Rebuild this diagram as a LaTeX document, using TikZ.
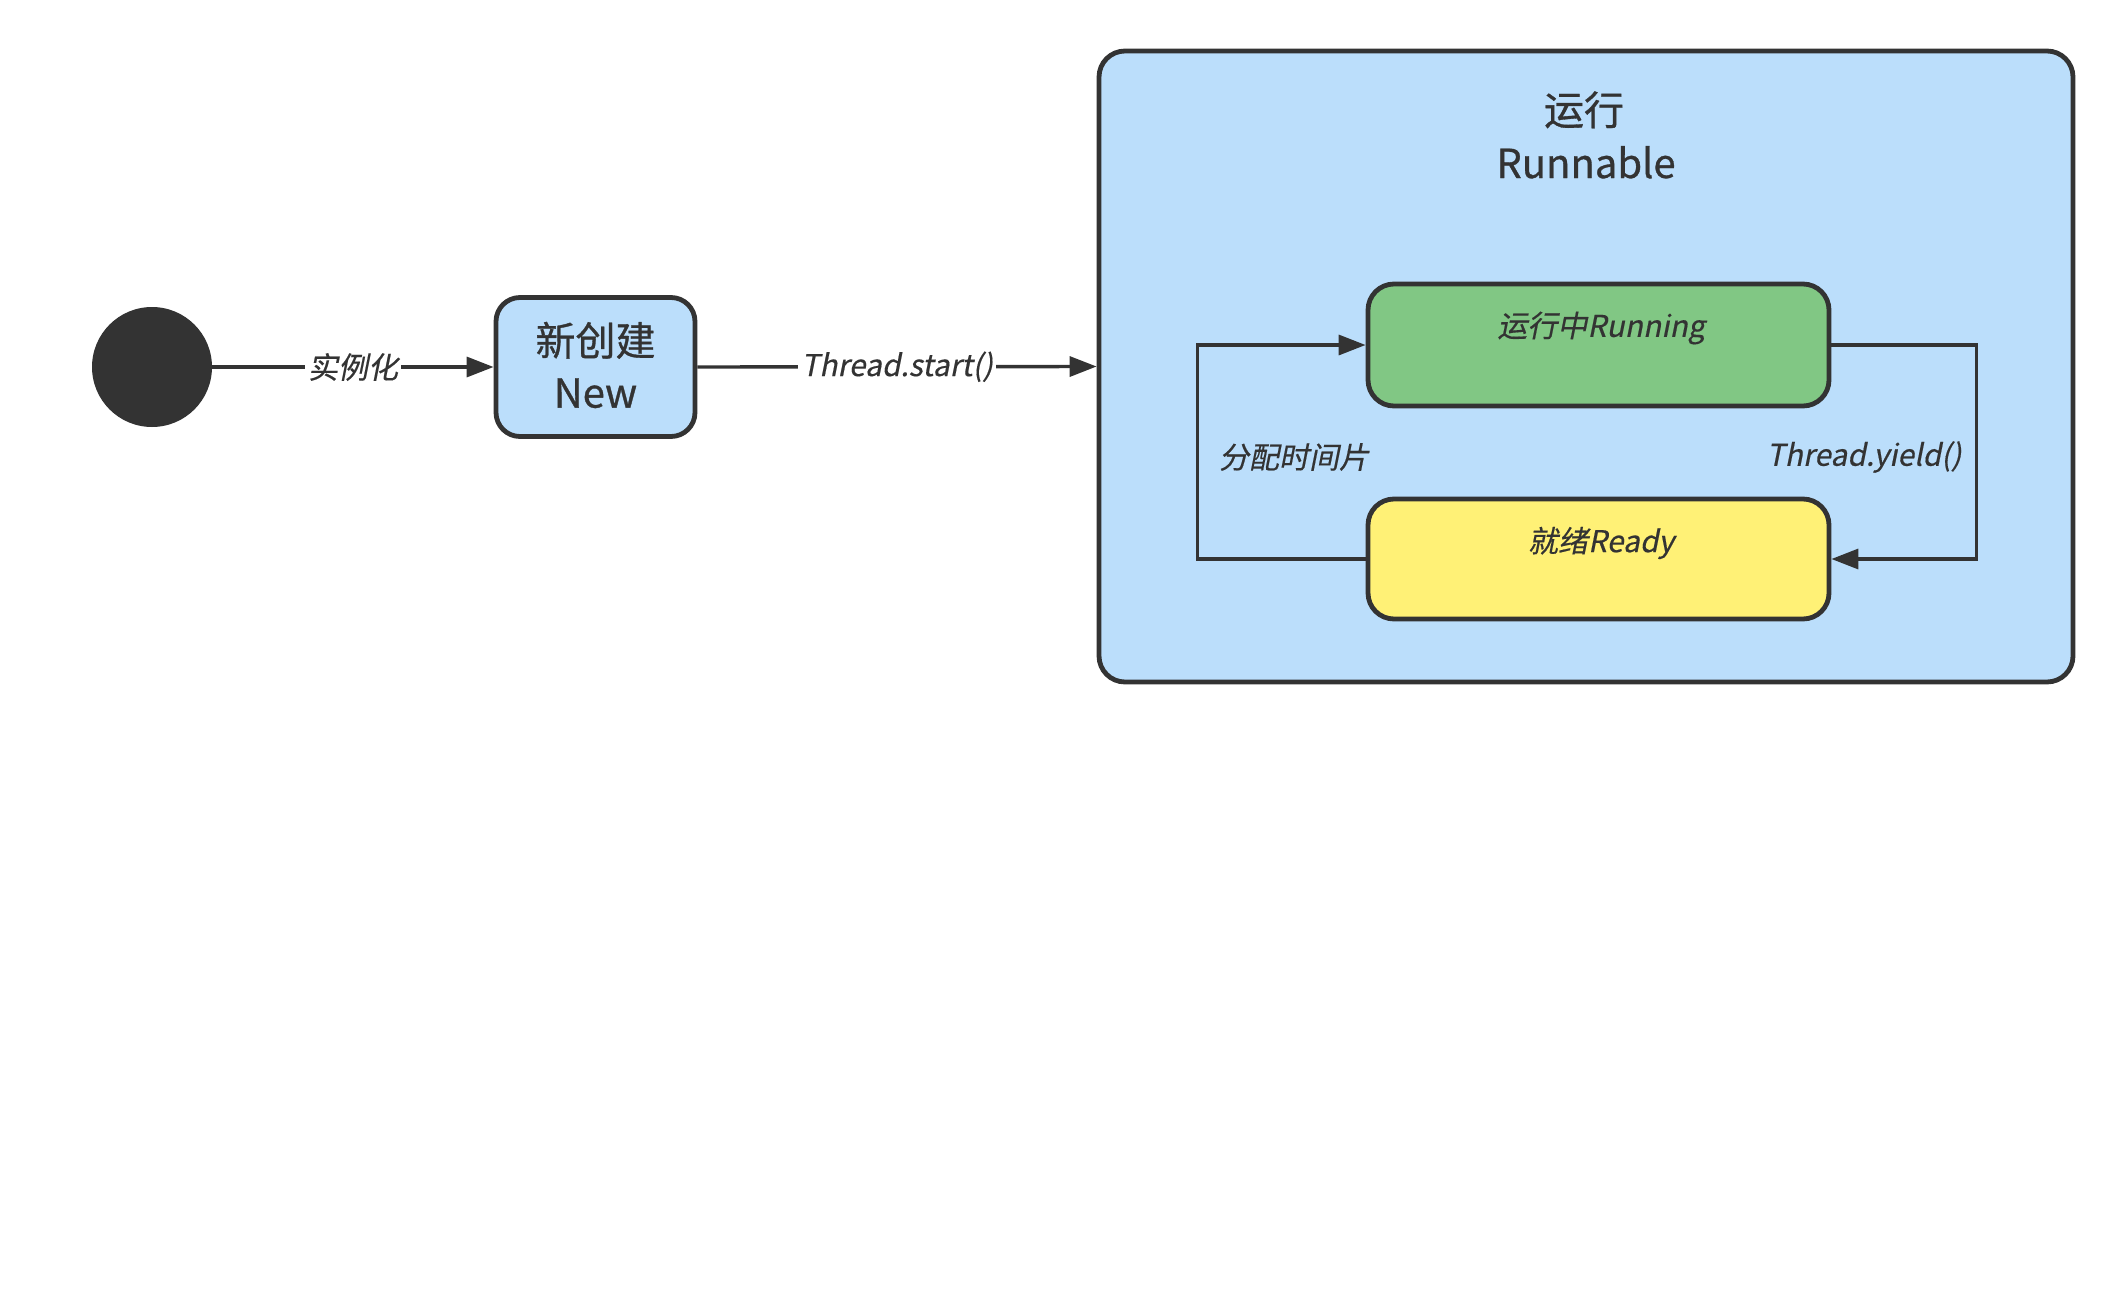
\documentclass[tikz,border=0pt]{standalone}
\usepackage{fontspec}
\setmainfont{Noto Sans CJK SC}[FakeBold=0.7]
\newfontfamily\slfont{Noto Sans CJK SC}[FakeSlant=0.2,FakeBold=0.4]
\newfontfamily\bigfont{Noto Sans CJK SC}[FakeBold=0.8]
\usetikzlibrary{arrows.meta}
\definecolor{ink}{HTML}{333333}
\definecolor{bluefill}{HTML}{BBDEFB}
\definecolor{greenfill}{HTML}{81C784}
\definecolor{yellowfill}{HTML}{FFF176}
\begin{document}
\begin{tikzpicture}[x=0.5pt,y=-0.5pt,
 box/.style={draw=ink, line width=2.4pt, rounded corners=12pt, inner sep=0pt},
 lbl/.style={font=\slfont\fontsize{15}{18}\selectfont, text=ink, inner sep=1.5pt},
 big/.style={font=\bigfont\fontsize{20}{26}\selectfont, text=ink, align=center, inner sep=0pt},
 conn/.style={draw=ink, line width=1.7pt, -{Triangle[length=13.5pt,width=10pt]}},
]
\useasboundingbox[fill=white] (0,0) rectangle (2124,1311);
% container
\node[box, fill=bluefill, rounded corners=13pt, minimum width=487pt, minimum height=315.5pt] (run) at (1586,366.5) {};
\node[big, anchor=base] (runtitle1) at (1584,125) {运行};
\node[big, anchor=base] (runtitle2) at (1586,178) {Runnable};
% start
\node[circle, fill=ink, inner sep=0pt, minimum size=60pt] (start) at (152,367) {};
% new
\node[box, fill=bluefill, minimum width=99.5pt, minimum height=69.5pt] (new) at (595.5,367) {};
\node[big] (newtxt) at (595.5,365) {新创建\\New};
% running and ready
\node[box, fill=greenfill, rounded corners=13pt, minimum width=230.5pt, minimum height=61pt] (running) at (1598.5,345) {};
\node[lbl] (runningtxt) at (1601,328) {运行中Running};
\node[box, fill=yellowfill, rounded corners=13pt, minimum width=230.5pt, minimum height=60pt] (ready) at (1598.5,559) {};
\node[lbl] (readytxt) at (1601,543) {就绪Ready};
% connectors
\draw[conn] (start.east) -- node[lbl, fill=white] (l1) {实例化} (new.west);
\draw[conn] (new.east) -- node[lbl, fill=white] (l2) {Thread.start()} (run.west);
\draw[conn] (ready.west) -- ++(-168,0) |- (running.west);
\draw[conn] (running.east) -- ++(145,0) |- (ready.east);
\node[lbl] (l3) at (1294,457) {分配时间片};
\node[lbl] (l4) at (1864,457) {Thread.yield()};
\end{tikzpicture}
\end{document}
